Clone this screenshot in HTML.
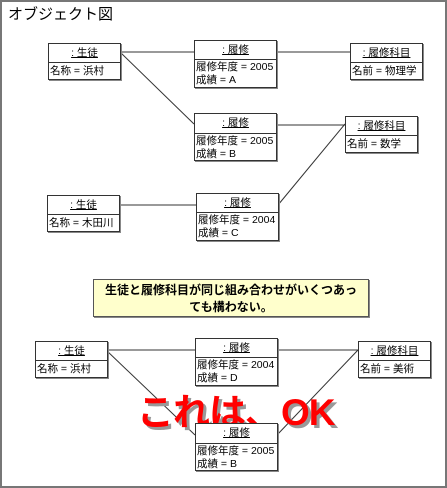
<!DOCTYPE html>
<html><head><meta charset="utf-8"><style>
body{margin:0;width:447px;height:488px;background:#fff;position:relative;overflow:hidden;font-family:"Liberation Sans","Noto Sans CJK JP",sans-serif;}
.frame{position:absolute;left:0;top:0;width:443px;height:484px;border:2px solid #777;}
.t{position:absolute;left:8px;top:3px;font-size:15px;}
.b{position:absolute;background:#fff;border:1px solid #333;box-shadow:1px 1px 0 #888;font-size:10.5px;line-height:13px;}
.h{text-align:center;text-decoration:underline;border-bottom:1px solid #333;}
.a{padding-left:1px;white-space:nowrap;}
svg{position:absolute;left:0;top:0;}
.note{position:absolute;left:93px;top:279px;width:276px;height:38px;background:#ffffcc;border:1px solid #555;box-shadow:1px 1px 0 #888;font-size:12px;font-weight:bold;text-align:center;line-height:17px;padding-top:2px;box-sizing:border-box;}
.ok{position:absolute;left:137px;top:382px;font-size:37px;font-weight:bold;color:#ff0000;text-shadow:3px 3px 0 #999;letter-spacing:-1px;white-space:nowrap;}
</style></head><body>
<div class="frame"></div>
<div class="t">オブジェクト図</div>
<svg width="447" height="488" stroke="#333" stroke-width="1">
<line x1="120" y1="52" x2="194" y2="52"/>
<line x1="276" y1="52" x2="350" y2="52"/>
<line x1="120" y1="52" x2="194" y2="124"/>
<line x1="276" y1="125" x2="345" y2="125"/>
<line x1="345" y1="124" x2="278" y2="205"/>
<line x1="119" y1="205" x2="196" y2="205"/>
<line x1="106" y1="350" x2="195" y2="350"/>
<line x1="277" y1="350" x2="358" y2="350"/>
<line x1="106" y1="350" x2="195" y2="435"/>
<line x1="358" y1="350" x2="277" y2="435"/>
</svg>
<div class="b" style="left:48px;top:43px;width:71px;height:35px"><div class="h" style="height:18px;line-height:18px">: 生徒</div><div class="a" style="padding-top:2px">名称 = 浜村</div></div>
<div class="b" style="left:194px;top:40px;width:81px;height:46px"><div class="h" style="height:18px;line-height:18px">: 履修</div><div class="a" style="padding-top:1px">履修年度 = 2005<br>成績 = A</div></div>
<div class="b" style="left:350px;top:43px;width:71px;height:35px"><div class="h" style="height:18px;line-height:18px">: 履修科目</div><div class="a" style="padding-top:2px">名前 = 物理学</div></div>
<div class="b" style="left:194px;top:113px;width:81px;height:46px"><div class="h" style="height:19px;line-height:19px">: 履修</div><div class="a" style="padding-top:1px">履修年度 = 2005<br>成績 = B</div></div>
<div class="b" style="left:345px;top:116px;width:71px;height:35px"><div class="h" style="height:18px;line-height:18px">: 履修科目</div><div class="a" style="padding-top:2px">名前 = 数学</div></div>
<div class="b" style="left:47px;top:195px;width:71px;height:35px"><div class="h" style="height:18px;line-height:18px">: 生徒</div><div class="a" style="padding-top:2px">名称 = 木田川</div></div>
<div class="b" style="left:196px;top:193px;width:81px;height:46px"><div class="h" style="height:18px;line-height:18px">: 履修</div><div class="a" style="padding-top:1px">履修年度 = 2004<br>成績 = C</div></div>
<div class="note">生徒と履修科目が同じ組み合わせがいくつあっ<br>ても構わない。</div>
<div class="b" style="left:35px;top:341px;width:71px;height:35px"><div class="h" style="height:18px;line-height:18px">: 生徒</div><div class="a" style="padding-top:2px">名称 = 浜村</div></div>
<div class="b" style="left:195px;top:338px;width:81px;height:46px"><div class="h" style="height:18px;line-height:18px">: 履修</div><div class="a" style="padding-top:1px">履修年度 = 2004<br>成績 = D</div></div>
<div class="b" style="left:358px;top:341px;width:71px;height:35px"><div class="h" style="height:18px;line-height:18px">: 履修科目</div><div class="a" style="padding-top:2px">名前 = 美術</div></div>
<div class="ok">これは、OK</div>
<div class="b" style="left:195px;top:423px;width:81px;height:46px"><div class="h" style="height:19px;line-height:19px">: 履修</div><div class="a" style="padding-top:1px">履修年度 = 2005<br>成績 = B</div></div>
</body></html>
